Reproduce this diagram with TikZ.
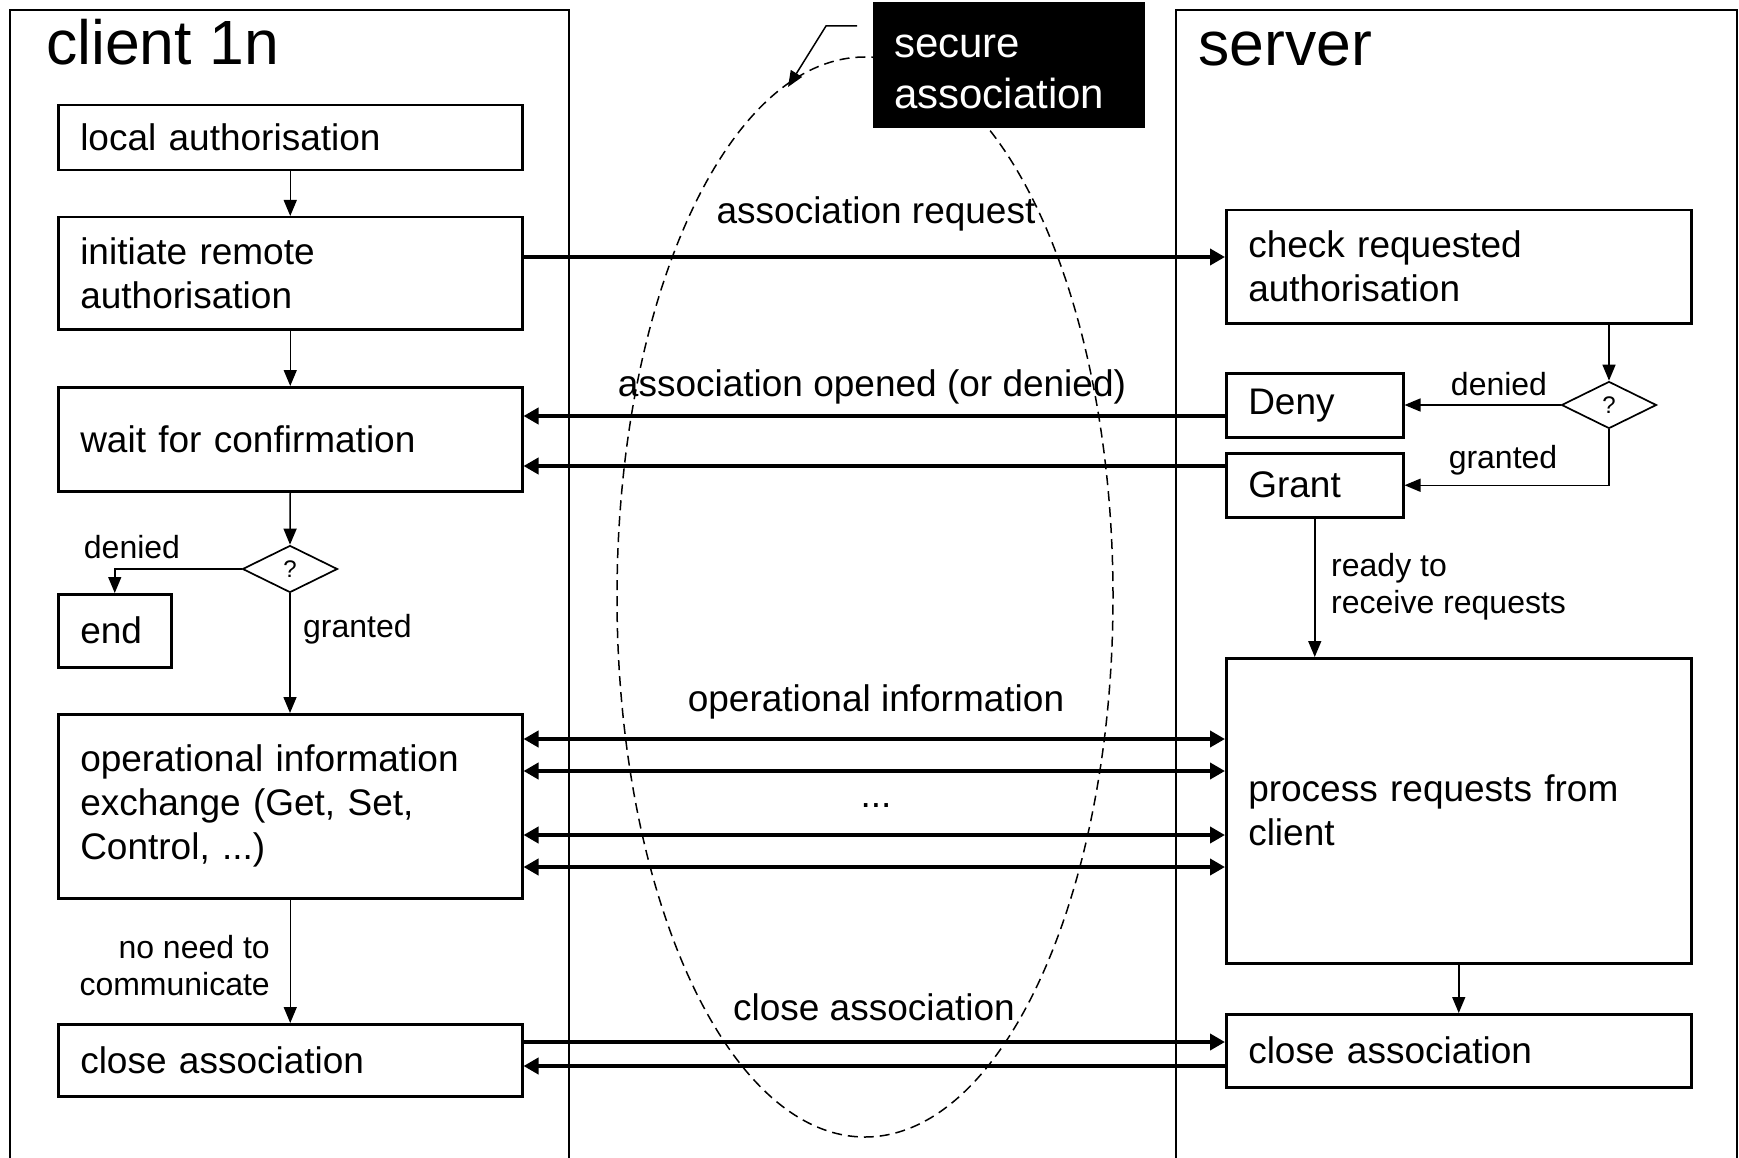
\documentclass[tikz,border=0pt]{standalone}
\usepackage{fontspec}
\setmainfont{Liberation Sans}
\usetikzlibrary{arrows.meta,shapes.geometric}
\begin{document}
\begin{tikzpicture}[x=1pt,y=-1pt,
  box/.style={draw, line width=2.5pt, anchor=north west, inner xsep=22pt, inner ysep=0pt, align=left, font=\fontsize{37}{44}\selectfont},
  dec/.style={diamond, draw, line width=1.7pt, inner sep=0pt, minimum width=95pt, minimum height=47pt, font=\fontsize{24}{24}\selectfont},
  flow/.style={line width=1.5pt, -{Triangle[length=16pt,width=13pt]}},
  msg/.style={line width=4pt, -{Triangle[length=15pt,width=16pt]}},
  msgboth/.style={line width=4pt, {Triangle[length=15pt,width=16pt]}-{Triangle[length=15pt,width=16pt]}},
  frame/.style={line width=2.2pt},
  lbl/.style={inner sep=0pt, font=\fontsize{37}{44}\selectfont},
  slbl/.style={inner sep=0pt, font=\fontsize{32}{37}\selectfont},
  title/.style={inner sep=0pt, anchor=base west, font=\fontsize{62.5}{62.5}\selectfont}
]
\useasboundingbox (0,0) rectangle (1739,1158);
\fill[white] (0,0) rectangle (1739,1158);

% column frames
\draw[frame] (10,1160) -- (10,10) -- (569,10) -- (569,1160);
\draw[frame] (1176,1160) -- (1176,10) -- (1737,10) -- (1737,1160);

% secure association ellipse
\draw[line width=1.5pt, dash pattern=on 10pt off 6pt] (865,597) ellipse [x radius=248pt, y radius=540pt];

% titles
\node[title] (tcl) at (46,65) {client 1n};
\node[title] (tsv) at (1198,66) {server};

% client nodes
\node[box, text width=420pt, minimum height=65pt] (la) at (57,104) {local authorisation};
\node[box, text width=420pt, minimum height=112pt] (init) at (57,216) {initiate remote\\authorisation};
\node[box, text width=420pt, minimum height=104pt] (wait) at (57,386) {wait for confirmation};
\node[dec] (cd) at (290,569) {?};
\node[box, text width=69pt, minimum height=73pt] (endn) at (57,593) {end};
\node[box, text width=420pt, minimum height=184pt] (op) at (57,713) {operational information\\exchange (Get, Set,\\Control, ...)};
\node[box, text width=420pt, minimum height=72pt] (cc) at (57,1023) {close association};

% server nodes
\node[box, text width=421pt, minimum height=113pt] (check) at (1225,209) {check requested\\authorisation};
\node[box, text width=133pt, minimum height=64pt] (deny) at (1225,372) {Deny};
\node[box, text width=133pt, minimum height=64pt] (grant) at (1225,452) {Grant};
\node[dec] (sd) at (1609,405) {?};
\node[box, text width=421pt, minimum height=305pt] (proc) at (1225,657) {process requests from\\client};
\node[box, text width=421pt, minimum height=73pt] (sc) at (1225,1013) {close association};

% secure association label
\node[fill=black, text=white, anchor=north west, minimum height=126pt, text width=230pt, inner xsep=21pt, inner ysep=0pt, align=left, font=\fontsize{42}{51}\selectfont] (sec) at (873,2) {\rule{0pt}{37pt}secure\\association};
\coordinate (ptail) at (857,26);
\coordinate (phead) at (788,87);
\draw[flow] (ptail) -- (826,26) -- (phead);

% client flow
\draw[flow] (la.south) -- (init.north);
\draw[flow] (init.south) -- (wait.north);
\draw[flow] (wait.south) -- (cd.north);
\draw[flow] (cd.west) -| (endn.north);
\draw[flow] (cd.south) -- (cd.south |- op.north);
\draw[flow] (op.south) -- (cc.north);
\node[slbl, anchor=base] (ldc) at (132,558) {denied};
\node[slbl, anchor=base west] (lgc) at (303,637) {granted};
\node[slbl, anchor=east, align=right] (lnn) at (270,966) {no need to\\communicate};

% server flow
\draw[flow] (sd.north |- check.south) -- (sd.north);
\draw[flow] (sd.west) -- (deny.east |- sd.west);
\draw[flow] (sd.south) |- (grant.east);
\draw[flow] (grant.south) -- (grant.south |- proc.north);
\draw[flow] (proc.south) -- (sc.north);
\node[slbl, anchor=base] (lds) at (1499,395) {denied};
\node[slbl, anchor=base] (lgs) at (1503,468) {granted};
\node[slbl, anchor=west, align=left] (lrr) at (1331,587) {ready to\\receive requests};

% messages
\draw[msg] (init.east |- 0,257) -- (check.west |- 0,257);
\draw[msg] (deny.west |- 0,416) -- (wait.east |- 0,416);
\draw[msg] (grant.west |- 0,466) -- (wait.east |- 0,466);
\draw[msgboth] (op.east |- 0,739) -- (proc.west |- 0,739);
\draw[msgboth] (op.east |- 0,771) -- (proc.west |- 0,771);
\draw[msgboth] (op.east |- 0,835) -- (proc.west |- 0,835);
\draw[msgboth] (op.east |- 0,867) -- (proc.west |- 0,867);
\draw[msg] (cc.east |- 0,1042) -- (sc.west |- 0,1042);
\draw[msg] (sc.west |- 0,1066) -- (cc.east |- 0,1066);

\node[lbl, anchor=base] (lreq) at (876,224) {association request};
\node[lbl, anchor=base] (lopen) at (872,396) {association opened (or denied)};
\node[lbl, anchor=base] (lop) at (876,711) {operational information};
\node[lbl, anchor=base] (ldots) at (876,807) {...};
\node[lbl, anchor=base] (lclose) at (874,1020) {close association};
\end{tikzpicture}
\end{document}
